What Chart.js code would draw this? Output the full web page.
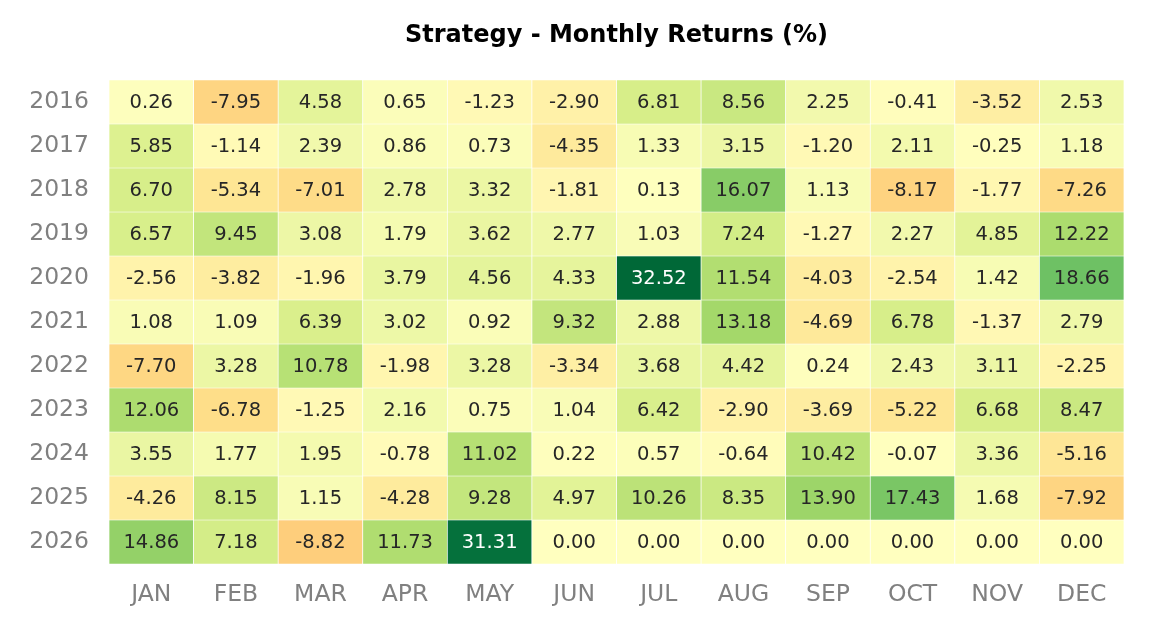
<!DOCTYPE html>
<html>
<head>
<meta charset="utf-8">
<script src="https://cdn.jsdelivr.net/npm/chart.js@4/dist/chart.umd.min.js"></script>
<style>
  html, body { margin: 0; padding: 0; background: #fff; }
  #wrap { width: 1152px; height: 634px; }
</style>
</head>
<body>
<div id="wrap"><canvas id="heat"></canvas></div>
<script>
const chartTitle = 'Strategy - Monthly Returns (%)';
const months = ['JAN', 'FEB', 'MAR', 'APR', 'MAY', 'JUN', 'JUL', 'AUG', 'SEP', 'OCT', 'NOV', 'DEC'];
const years = ['2016', '2017', '2018', '2019', '2020', '2021', '2022', '2023', '2024', '2025', '2026'];

const r2016 = [0.26, -7.95, 4.58, 0.65, -1.23, -2.90, 6.81, 8.56, 2.25, -0.41, -3.52, 2.53];
const r2017 = [5.85, -1.14, 2.39, 0.86, 0.73, -4.35, 1.33, 3.15, -1.20, 2.11, -0.25, 1.18];
const r2018 = [6.70, -5.34, -7.01, 2.78, 3.32, -1.81, 0.13, 16.07, 1.13, -8.17, -1.77, -7.26];
const r2019 = [6.57, 9.45, 3.08, 1.79, 3.62, 2.77, 1.03, 7.24, -1.27, 2.27, 4.85, 12.22];
const r2020 = [-2.56, -3.82, -1.96, 3.79, 4.56, 4.33, 32.52, 11.54, -4.03, -2.54, 1.42, 18.66];
const r2021 = [1.08, 1.09, 6.39, 3.02, 0.92, 9.32, 2.88, 13.18, -4.69, 6.78, -1.37, 2.79];
const r2022 = [-7.70, 3.28, 10.78, -1.98, 3.28, -3.34, 3.68, 4.42, 0.24, 2.43, 3.11, -2.25];
const r2023 = [12.06, -6.78, -1.25, 2.16, 0.75, 1.04, 6.42, -2.90, -3.69, -5.22, 6.68, 8.47];
const r2024 = [3.55, 1.77, 1.95, -0.78, 11.02, 0.22, 0.57, -0.64, 10.42, -0.07, 3.36, -5.16];
const r2025 = [-4.26, 8.15, 1.15, -4.28, 9.28, 4.97, 10.26, 8.35, 13.90, 17.43, 1.68, -7.92];
const r2026 = [14.86, 7.18, -8.82, 11.73, 31.31, 0.00, 0.00, 0.00, 0.00, 0.00, 0.00, 0.00];

const rows = [r2016, r2017, r2018, r2019, r2020, r2021, r2022, r2023, r2024, r2025, r2026];

// RdYlGn, centred on zero
const rdylgn = ['#a50026', '#d73027', '#f46d43', '#fdae61', '#fee08b', '#ffffbf',
                '#d9ef8b', '#a6d96a', '#66bd63', '#1a9850', '#006837'];
const vmax = Math.max(...rows.flat().map(Math.abs));

function hex2rgb(h) {
  return [parseInt(h.slice(1, 3), 16), parseInt(h.slice(3, 5), 16), parseInt(h.slice(5, 7), 16)];
}
function cellRgb(v) {
  let t = 0.5 + v / (2 * vmax);
  t = Math.min(1, Math.max(0, t)) * (rdylgn.length - 1);
  const i = Math.min(rdylgn.length - 2, Math.floor(t));
  const f = t - i;
  const a = hex2rgb(rdylgn[i]), b = hex2rgb(rdylgn[i + 1]);
  return a.map((c, k) => Math.round(c + (b[k] - c) * f));
}
function cellColor(v) {
  const c = cellRgb(v);
  return 'rgb(' + c.join(',') + ')';
}
function textColor(v) {
  const c = cellRgb(v).map(x => {
    x = x / 255;
    return x <= 0.03928 ? x / 12.92 : Math.pow((x + 0.055) / 1.055, 2.4);
  });
  const lum = 0.2126 * c[0] + 0.7152 * c[1] + 0.0722 * c[2];
  return lum > 0.408 ? '#262626' : '#ffffff';
}

const datasets = rows.map((r, i) => ({
  label: years[i],
  data: r.map(() => 1),
  returns: r,
  backgroundColor: r.map(cellColor),
  borderColor: '#ffffff',
  borderWidth: 0.7,
  borderSkipped: false,
  barPercentage: 1,
  categoryPercentage: 1
}));

const cellLabels = {
  id: 'cellLabels',
  afterDatasetsDraw(chart) {
    const ctx = chart.ctx;
    ctx.save();
    ctx.font = '19.5px "DejaVu Sans"';
    ctx.textAlign = 'center';
    ctx.textBaseline = 'middle';
    chart.data.datasets.forEach((ds, i) => {
      chart.getDatasetMeta(i).data.forEach((el, j) => {
        const v = ds.returns[j];
        const p = el.getCenterPoint();
        ctx.fillStyle = textColor(v);
        ctx.fillText(v.toFixed(2), p.x, p.y + 1);
      });
    });
    ctx.restore();
  }
};

// title centred over the cells, not over the whole canvas
const areaTitle = {
  id: 'areaTitle',
  afterDraw(chart) {
    const ctx = chart.ctx, a = chart.chartArea;
    ctx.save();
    ctx.font = 'bold 24px "DejaVu Sans"';
    ctx.fillStyle = '#000000';
    ctx.textAlign = 'center';
    ctx.textBaseline = 'middle';
    ctx.fillText(chartTitle, (a.left + a.right) / 2, 36);
    ctx.restore();
  }
};

new Chart(document.getElementById('heat'), {
  type: 'bar',
  data: { labels: months, datasets: datasets },
  plugins: [cellLabels, areaTitle],
  options: {
    responsive: true,
    maintainAspectRatio: false,
    animation: false,
    layout: { padding: { left: 0, right: 28, top: 80, bottom: 0 } },
    plugins: {
      legend: { display: false },
      tooltip: { enabled: false },
      title: { display: false }
    },
    scales: {
      x: {
        stacked: true,
        grid: { display: false, drawTicks: false },
        border: { display: false },
        ticks: { color: '#808080', font: { family: 'DejaVu Sans', size: 23.5 }, padding: 17 },
        afterFit(s) { s.height = 70; }
      },
      y: {
        stacked: true,
        min: 0,
        max: years.length,
        reverse: true,
        grid: { display: false, drawTicks: false },
        border: { display: false },
        afterBuildTicks(s) {
          s.ticks = years.map((y, i) => ({ value: i + 0.5 }));
        },
        ticks: {
          color: '#808080',
          font: { family: 'DejaVu Sans', size: 23.5 },
          padding: 20,
          callback: (v) => years[Math.floor(v)]
        },
        afterFit(s) { s.width = 109; }
      }
    }
  }
});
</script>
</body>
</html>
